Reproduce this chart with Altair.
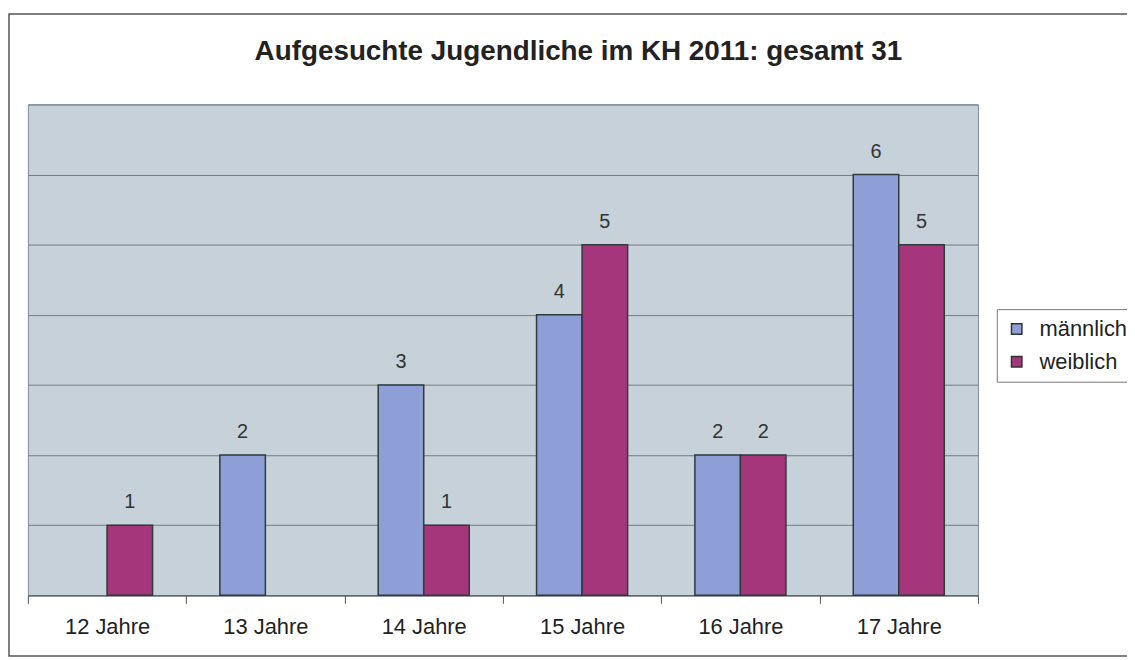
import altair as alt
import pandas as pd

categories = ["12 Jahre", "13 Jahre", "14 Jahre", "15 Jahre", "16 Jahre", "17 Jahre"]
maennlich = [0, 2, 3, 4, 2, 6]
weiblich = [1, 0, 1, 5, 2, 5]
series = ["männlich", "weiblich"]
title_text = "Aufgesuchte Jugendliche im KH 2011: gesamt 31"

rows = []
for c, m, w in zip(categories, maennlich, weiblich):
    rows.append({"Alter": c, "Geschlecht": series[0], "Anzahl": m})
    rows.append({"Alter": c, "Geschlecht": series[1], "Anzahl": w})
df = pd.DataFrame(rows)
df = df[df["Anzahl"] > 0]

FONT = "Liberation Sans"

x_enc = alt.X("Alter:N", sort=categories,
              scale=alt.Scale(domain=categories, paddingInner=0, paddingOuter=0),
              axis=alt.Axis(title=None, labelAngle=0, labelFontSize=22, labelColor="#222",
                            labelFont=FONT, domainColor="#555", tickColor="#555",
                            tickSize=8, tickBand="extent", labelPadding=13, grid=False))
xoff = alt.XOffset("Geschlecht:N", scale=alt.Scale(domain=series, paddingOuter=0.739, paddingInner=0))
y_enc = alt.Y("Anzahl:Q", scale=alt.Scale(domain=[0, 7], nice=False),
              axis=alt.Axis(title=None, labels=False, ticks=False, domain=False,
                            values=list(range(0, 8)), grid=True, gridColor="#6f7d84",
                            gridWidth=1))

base = alt.Chart(df)

bars = base.mark_bar(stroke="#2d3b3b", strokeWidth=1.5).encode(
    x=x_enc, xOffset=xoff, y=y_enc,
    color=alt.Color("Geschlecht:N",
                    scale=alt.Scale(domain=series, range=["#8e9fd8", "#a5367b"]),
                    legend=alt.Legend(title=None, orient="none", legendX=975, legendY=206,
                                      labelFontSize=22, labelFont=FONT, labelColor="#222",
                                      symbolType="square", symbolSize=110,
                                      symbolStrokeColor="#333", symbolStrokeWidth=1.5,
                                      strokeColor="#777", padding=9, labelOffset=12,
                                      rowPadding=11, fillColor="white")),
)

labels = base.mark_text(dy=-17, fontSize=20, font=FONT, color="#333", baseline="alphabetic").encode(
    x=x_enc, xOffset=xoff, y=y_enc, text="Anzahl:Q")

border = alt.Chart(pd.DataFrame({"k": [0]})).mark_rect(
    fill=None, stroke="#555", strokeWidth=1.5).encode(
    x=alt.value(-19), x2=alt.value(1300), y=alt.value(-91), y2=alt.value(555))

title = alt.Chart(pd.DataFrame({"t": [title_text]})).mark_text(
    fontSize=28, font=FONT, fontWeight="bold", color="#222", baseline="alphabetic",
    align="center").encode(x=alt.value(554), y=alt.value(-45), text="t:N")

chart = alt.layer(border, bars, labels, title).properties(
    width=956, height=494,
    padding={"left": 20, "top": 95, "right": 150, "bottom": 62},
    autosize=alt.AutoSizeParams(type="none"),
).configure_view(fill="#c7d1d9", stroke="#7f8c93", strokeWidth=1)

chart.save("out.html", embed_options={"renderer": "svg", "actions": False})
